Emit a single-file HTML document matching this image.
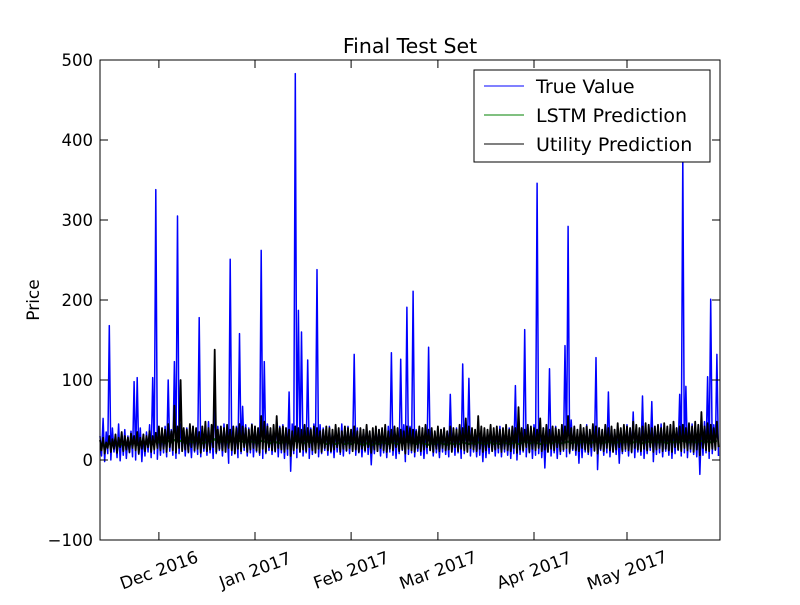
<!DOCTYPE html>
<html><head><meta charset="utf-8"><style>
body{margin:0;background:#fff;}
svg text{font-family:"DejaVu Sans","Liberation Sans",sans-serif;}
</style></head><body>
<svg id="c" width="800" height="600" xmlns="http://www.w3.org/2000/svg">
<rect width="800" height="600" fill="#fff"/>
<g id="plot"></g>
<rect x="100" y="60" width="620" height="480" fill="none" stroke="#000" stroke-width="1"/>
<g id="axes"></g>
<text x="410" y="53" font-size="20.5" text-anchor="middle">Final Test Set</text>
<text transform="translate(39,300) rotate(-90)" font-size="17" text-anchor="middle">Price</text>
<text x="410" y="614" font-size="17" text-anchor="middle">Time</text>
<g>
<rect x="474" y="70" width="236" height="92" fill="#fff" stroke="#000" stroke-width="1"/>
<g><line x1="484" y1="86" x2="524" y2="86" stroke="#0000ff"/><text x="536" y="93" font-size="19">True Value</text></g>
<g><line x1="484" y1="115" x2="524" y2="115" stroke="#008000"/><text x="536" y="122" font-size="19">LSTM Prediction</text></g>
<g><line x1="484" y1="144" x2="524" y2="144" stroke="#000"/><text x="536" y="151" font-size="19">Utility Prediction</text></g>
</g>
</svg>
<script>
const yTicks=[500,400,300,200,100,0,-100];
const xTickLabels=["Dec 2016","Jan 2017","Feb 2017","Mar 2017","Apr 2017","May 2017"];
const xTickDays=[19,50,81,109,140,170];
const trueHigh=[30,52,35,168,40,28,45,33,38,30,36,98,103,40,32,35,44,103,338,40,
35,42,100,38,123,305,45,38,40,33,42,36,178,40,35,48,38,75,42,36,
45,40,251,38,42,158,67,44,40,45,42,40,262,123,45,38,40,50,42,44,
40,85,45,483,187,160,42,125,40,45,238,44,40,38,42,36,40,38,45,40,
42,38,132,40,35,38,42,36,33,40,38,35,40,42,134,38,40,126,44,191,
42,211,38,35,40,36,141,38,35,32,38,40,36,82,38,40,42,120,40,102,
38,35,40,36,38,34,40,36,38,42,35,38,40,36,93,40,38,163,42,40,
44,346,42,40,38,114,40,42,38,44,143,292,50,40,38,42,40,44,38,40,
128,40,38,44,85,40,38,42,36,40,44,40,60,42,38,80,40,44,73,40,
42,45,40,38,44,42,40,82,380,92,42,45,40,44,42,48,104,201,44,132];
const trueLow=[5,-2,8,0,10,3,-1,6,2,9,4,0,7,-2,5,10,3,8,1,6,
9,4,11,6,2,8,12,5,9,3,10,7,4,11,6,9,2,8,12,5,
10,-4,6,11,3,8,12,5,9,4,10,6,2,8,12,7,10,4,9,2,
6,-14,8,3,10,5,9,2,7,11,4,8,12,6,9,3,10,7,5,11,
8,12,6,9,4,10,7,-6,8,11,5,9,3,10,6,2,8,12,-2,7,
9,4,11,6,2,8,12,5,9,3,10,7,4,11,6,9,2,8,12,5,
10,4,6,-2,3,8,12,5,9,4,10,6,2,8,0,7,10,4,9,2,
6,8,3,-10,10,5,9,2,7,11,4,8,12,6,-4,3,10,7,5,11,
-12,12,6,9,4,10,7,-4,8,11,5,9,3,10,6,2,8,12,-2,7,
9,4,11,6,2,8,12,5,9,3,10,7,4,-18,6,9,2,8,12,5];
const utilHigh=[25,28,22,30,26,32,28,35,30,28,33,30,35,28,32,30,36,30,34,42,
40,38,45,36,68,42,100,40,38,45,42,40,35,42,48,40,44,138,38,42,
40,44,38,42,40,45,42,40,38,44,42,40,55,48,42,40,44,55,40,42,
40,38,36,42,40,38,44,40,38,42,40,36,38,42,40,38,44,40,36,42,
40,38,42,36,40,38,44,36,40,42,38,40,44,36,38,42,40,38,36,42,
40,38,36,42,40,44,38,40,36,42,38,40,36,42,40,38,44,40,52,42,
40,38,55,42,40,38,44,40,42,38,40,44,38,42,40,66,40,38,44,42,
40,38,52,40,44,38,42,40,38,44,42,55,40,42,38,44,40,42,38,45,
42,40,38,44,40,42,38,46,40,44,42,40,48,44,40,42,46,44,40,42,
44,40,46,42,44,48,40,42,44,40,46,42,48,44,60,42,46,44,40,48];
const utilLow=[12,8,15,10,14,9,16,11,13,10,15,12,8,14,11,16,10,13,15,12,
14,10,16,12,9,15,11,13,10,16,12,14,9,15,11,13,16,10,14,12,
10,15,12,8,14,11,16,10,13,15,12,9,14,10,16,12,11,15,13,10,
14,5,12,15,10,13,11,16,12,9,14,10,15,12,11,13,16,10,14,12,
15,11,13,10,14,12,16,9,13,11,15,12,10,14,12,16,11,13,8,14,
12,10,15,11,13,16,12,10,14,11,15,12,13,10,16,11,14,12,10,15,
13,11,14,10,12,16,11,13,15,10,14,12,11,15,9,13,12,16,10,14,
12,15,11,13,10,14,12,16,11,13,15,10,14,12,11,15,13,10,16,12,
8,14,11,15,12,10,13,16,11,14,12,10,15,13,11,14,12,16,10,13,
15,11,14,12,10,16,13,11,15,12,14,10,13,6,15,12,11,14,13,16];
const lstm=[18,20,17,21,19,22,18,20,19,21,20,22,19,21,23,20,22,21,24,22,
23,21,24,22,25,23,24,22,21,23,22,24,23,21,22,24,23,26,22,23,
24,22,23,25,22,24,23,22,24,23,22,21,24,23,22,21,23,22,21,22,
23,21,22,24,23,22,21,23,22,24,23,21,22,20,21,22,20,21,22,20,
21,20,22,21,20,19,21,20,19,21,20,22,21,20,22,21,20,22,21,23,
22,21,20,22,21,20,19,21,20,22,21,20,19,21,20,21,20,22,21,20,
21,20,22,21,20,21,22,20,21,20,22,21,20,21,22,20,21,23,22,21,
22,21,20,22,21,22,21,23,22,21,22,23,21,22,21,22,23,22,21,22,
23,22,21,22,23,22,21,22,23,22,23,21,22,23,22,21,22,23,22,23,
22,23,22,21,23,22,23,22,24,23,22,23,22,23,24,22,23,22,23,24];
const NS="http://www.w3.org/2000/svg";
const X0=100,X1=720,Y0=60,Y1=540,nDays=200;
function xs(d){return X0+d*(X1-X0)/nDays;}
function ys(v){return Y1-(v+100)*(Y1-Y0)/600;}
const plot=document.getElementById('plot'),axes=document.getElementById('axes');
function series(hi,lo,color,name,w){
  let pts=[];
  for(let i=0;i<hi.length;i++){
    pts.push(xs(i).toFixed(2)+','+ys(hi[i]).toFixed(2));
    if(lo)pts.push(xs(i+0.5).toFixed(2)+','+ys(lo[i]).toFixed(2));
  }
  const p=document.createElementNS(NS,'polyline');
  p.setAttribute('points',pts.join(' '));
  p.setAttribute('fill','none');p.setAttribute('stroke',color);p.setAttribute('stroke-width',w);
  p.setAttribute('stroke-linejoin','round');
  
  
  plot.appendChild(p);
}
series(trueHigh,trueLow,'#0000ff','true-value-line','1.5');
series(lstm,null,'#008000','lstm-prediction-line','2');
series(utilHigh,utilLow,'#000','utility-prediction-line','1.8');
yTicks.forEach(v=>{
  const y=ys(v);
  const g=document.createElementNS(NS,'g');
  
  
  g.innerHTML=`<line x1="100" y1="${y}" x2="108" y2="${y}" stroke="#000"/><line x1="712" y1="${y}" x2="720" y2="${y}" stroke="#000"/><text x="93" y="${y+6}" font-size="16.5" text-anchor="end">${v===-100?'\u2212100':v}</text>`;
  axes.appendChild(g);
});
xTickLabels.forEach((t,i)=>{
  const x=xs(xTickDays[i]);
  const g=document.createElementNS(NS,'g');
  
  
  g.innerHTML=`<line x1="${x}" y1="532" x2="${x}" y2="540" stroke="#000"/><line x1="${x}" y1="60" x2="${x}" y2="68" stroke="#000"/><text transform="translate(${x},${570}) rotate(-20)" font-size="17" text-anchor="middle" dy="6">${t}</text>`;
  axes.appendChild(g);
});
</script>
</body></html>
